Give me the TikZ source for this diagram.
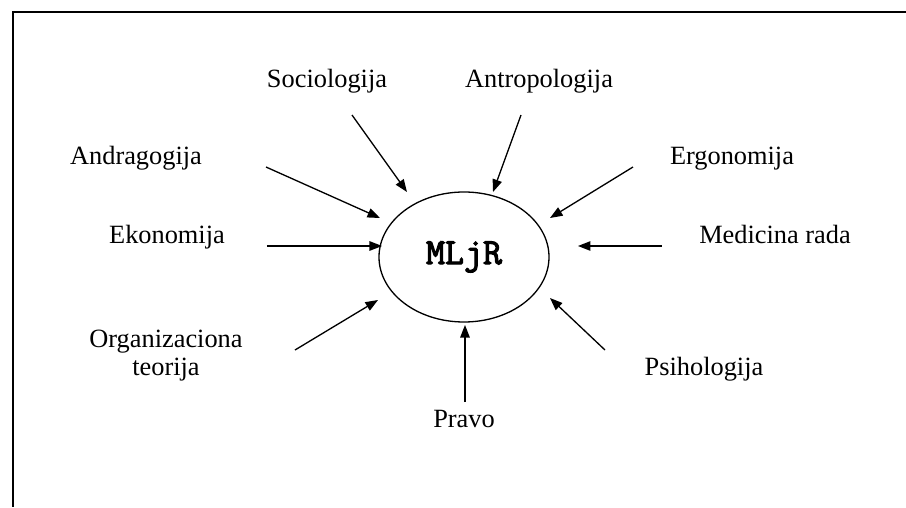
\documentclass[tikz,border=0pt]{standalone}
\usepackage{fontspec}
\setmainfont{Liberation Serif}
\newfontfamily\mljrfont{Latin Modern Mono}[FakeBold=3]
\usepackage{tikz}
\usetikzlibrary{arrows.meta, shapes.geometric}

\begin{document}
\begin{tikzpicture}[scale=0.2,
  lbl/.style={font=\fontsize{15}{15.5}\selectfont, inner sep=0pt},
  arr/.style={-{Triangle[length=0.25cm, width=0.19cm]}, line width=0.75pt}]
\useasboundingbox (0,0) rectangle (90.6,50.7);
\draw[line width=0.9pt] (90.6,49.5) -- (1.3,49.5) -- (1.3,0); % frame
\node[ellipse, draw, line width=0.75pt, minimum width=3.4cm, minimum height=2.6cm,
  inner sep=0pt, font=\mljrfont\fontsize{21}{21}\selectfont] (mljr) at (46.4,25.0) {MLjR};
\node[lbl, anchor=base] (soc) at (32.7,41.9) {Sociologija};
\node[lbl, anchor=base] (antr) at (53.9,41.9) {Antropologija};
\node[lbl, anchor=base] (andr) at (13.6,34.2) {Andragogija};
\node[lbl, anchor=base] (ekon) at (16.7,26.3) {Ekonomija};
\node[lbl, anchor=base] (ergo) at (73.2,34.2) {Ergonomija};
\node[lbl, anchor=base] (med) at (77.5,26.3) {Medicina rada};
\node[lbl, align=center] (org) at (16.6,15.15) {Organizaciona\\teorija};
\node[lbl, anchor=base] (prav) at (46.4,8.0) {Pravo};
\node[lbl, anchor=base] (psih) at (70.4,13.2) {Psihologija};
% arrow ends
\coordinate (soc-a) at (35.2,39.2);  \coordinate (soc-b) at (40.7,31.5);
\coordinate (antr-a) at (52.1,39.2); \coordinate (antr-b) at (49.3,31.5);
\coordinate (andr-a) at (26.6,34.0); \coordinate (andr-b) at (38.0,28.9);
\coordinate (ekon-a) at (26.7,26.1); \coordinate (ekon-b) at (38.2,26.1);
\coordinate (ergo-a) at (63.3,34.0); \coordinate (ergo-b) at (55.0,28.9);
\coordinate (med-a) at (66.2,26.1);  \coordinate (med-b) at (57.8,26.1);
\coordinate (org-a) at (29.5,15.7);  \coordinate (org-b) at (37.8,20.7);
\coordinate (prav-a) at (46.5,10.5); \coordinate (prav-b) at (46.5,18.2);
\coordinate (psih-a) at (60.5,15.7); \coordinate (psih-b) at (55.0,20.9);
\draw[arr] (soc-a) -- (soc-b);
\draw[arr] (antr-a) -- (antr-b);
\draw[arr] (andr-a) -- (andr-b);
\draw[arr] (ekon-a) -- (ekon-b);
\draw[arr] (ergo-a) -- (ergo-b);
\draw[arr] (med-a) -- (med-b);
\draw[arr] (org-a) -- (org-b);
\draw[arr] (prav-a) -- (prav-b);
\draw[arr] (psih-a) -- (psih-b);
\end{tikzpicture}
\end{document}
